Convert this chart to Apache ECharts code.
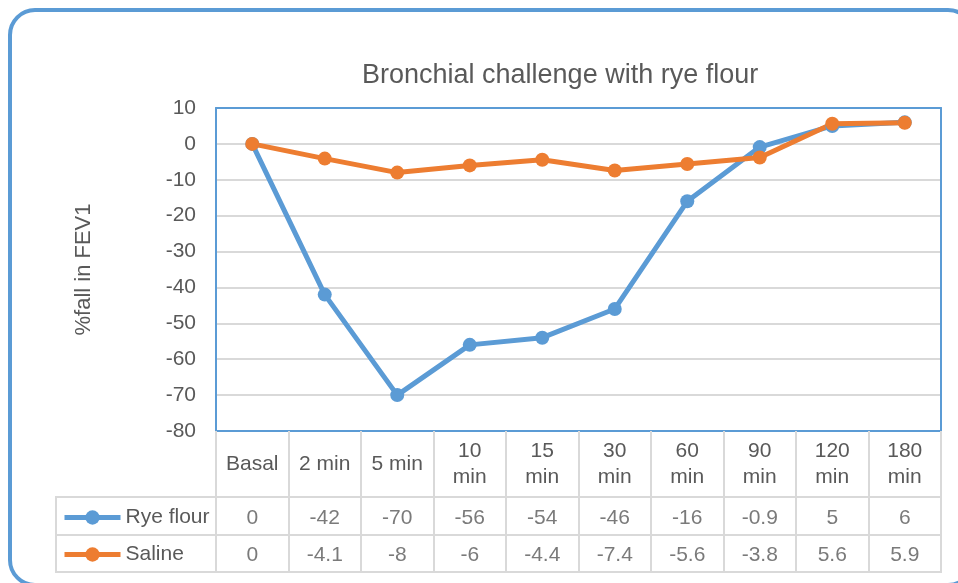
<!DOCTYPE html>
<html><head><meta charset="utf-8">
<script src="https://cdn.jsdelivr.net/npm/echarts@6/dist/echarts.min.js"></script>
<style>html,body{margin:0;padding:0;background:#fff}#c{width:958px;height:583px}</style>
</head><body><div id="c"></div>
<script>
const categories = ['Basal','2 min','5 min','10 min','15 min','30 min','60 min','90 min','120 min','180 min'];
const ryeFlour = [0,-42,-70,-56,-54,-46,-16,-0.9,5,6];
const saline = [0,-4.1,-8,-6,-4.4,-7.4,-5.6,-3.8,5.6,5.9];
const seriesNames = ['Rye flour','Saline'];
const titleText = 'Bronchial challenge with rye flour';
const yAxisName = '%fall in FEV1';

const FONT = 'Liberation Sans';
const TXT = '#595959';
const GRIDC = '#d9d9d9';
const BLUE = '#5b9bd5';
const ORANGE = '#ed7d31';

const chart = echarts.init(document.getElementById('c'));
const hiddenAxis = (gi, type, extra) => Object.assign({gridIndex: gi, type: type, show: false}, extra || {});
const rowX = gi => ({gridIndex: gi, type: 'category', data: categories, boundaryGap: true,
  axisLine: {show: false}, axisTick: {show: false}, axisLabel: {show: false},
  splitLine: {show: true, lineStyle: {color: GRIDC, width: 2}}});
const rowSeries = (name, arr, gi) => ({
  name: name, type: 'scatter', xAxisIndex: gi, yAxisIndex: gi, silent: true,
  symbolSize: 1, itemStyle: {color: 'rgba(0,0,0,0)'},
  data: arr.map((v, i) => [i, 0.45]),
  label: {show: true, position: 'inside', color: TXT, fontSize: 21, fontFamily: FONT,
    formatter: p => String(arr[p.dataIndex])}
});
const legendRow = (name, top) => ({data: [name], orient: 'vertical', left: 62, top: top, padding: 0,
  itemWidth: 56, itemHeight: 18, selectedMode: false,
  lineStyle: {width: 5},
  textStyle: {fontSize: 21, color: TXT, fontFamily: FONT}});

chart.setOption({
  animation: false,
  textStyle: {fontFamily: FONT, color: TXT},
  title: {text: titleText, left: 362, top: 62, padding: 0,
    textStyle: {fontSize: 27, fontWeight: 'normal', color: TXT, fontFamily: FONT}},
  graphic: [{type: 'rect', silent: true, z: -1,
    shape: {x: 10, y: 10, width: 963, height: 575, r: 25},
    style: {fill: 'none', stroke: BLUE, lineWidth: 4}}],
  legend: [legendRow(seriesNames[0], 507), legendRow(seriesNames[1], 544)],
  grid: [
    {left: 216, top: 108, width: 725, height: 323, show: false},
    {left: 216, top: 497, width: 725, height: 38, show: true, borderColor: GRIDC, borderWidth: 2},
    {left: 216, top: 535, width: 725, height: 37, show: true, borderColor: GRIDC, borderWidth: 2},
    {left: 56, top: 497, width: 160, height: 38, show: true, borderColor: GRIDC, borderWidth: 2},
    {left: 56, top: 535, width: 160, height: 37, show: true, borderColor: GRIDC, borderWidth: 2}
  ],
  xAxis: [
    {gridIndex: 0, type: 'category', data: categories, boundaryGap: true, position: 'bottom',
      axisLine: {show: true, onZero: false, lineStyle: {color: BLUE, width: 2}},
      axisTick: {show: true, length: 66, lineStyle: {color: GRIDC, width: 2}},
      axisLabel: {interval: 0, margin: 33, verticalAlign: 'middle', lineHeight: 26,
        fontSize: 21, color: TXT, fontFamily: FONT,
        formatter: v => v.length > 5 ? v.replace(' ', '\n') : v}},
    rowX(1), rowX(2),
    hiddenAxis(3, 'value', {min: 0, max: 1}), hiddenAxis(4, 'value', {min: 0, max: 1}),
    {gridIndex: 0, type: 'category', data: categories, position: 'top',
      axisLine: {show: true, onZero: false, lineStyle: {color: BLUE, width: 2}},
      axisTick: {show: false}, axisLabel: {show: false}, splitLine: {show: false}}
  ],
  yAxis: [
    {gridIndex: 0, type: 'value', min: -80, max: 10, interval: 10, position: 'left',
      axisLine: {show: true, onZero: false, lineStyle: {color: BLUE, width: 2}}, axisTick: {show: false},
      splitLine: {show: true, lineStyle: {color: GRIDC, width: 2}},
      axisLabel: {fontSize: 21, color: TXT, fontFamily: FONT, margin: 20},
      name: yAxisName, nameLocation: 'middle', nameGap: 121, nameRotate: 90,
      nameTextStyle: {fontSize: 22, color: TXT, fontFamily: FONT}},
    hiddenAxis(1, 'value', {min: 0, max: 1}), hiddenAxis(2, 'value', {min: 0, max: 1}),
    hiddenAxis(3, 'value', {min: 0, max: 1}), hiddenAxis(4, 'value', {min: 0, max: 1}),
    {gridIndex: 0, type: 'value', min: -80, max: 10, interval: 10, position: 'right',
      axisLine: {show: true, onZero: false, lineStyle: {color: BLUE, width: 2}},
      axisTick: {show: false}, axisLabel: {show: false}, splitLine: {show: false}}
  ],
  series: [
    {name: seriesNames[0], type: 'line', data: ryeFlour, xAxisIndex: 0, yAxisIndex: 0,
      symbol: 'circle', symbolSize: 14, color: BLUE,
      lineStyle: {width: 5, color: BLUE}, itemStyle: {color: BLUE}},
    {name: seriesNames[1], type: 'line', data: saline, xAxisIndex: 0, yAxisIndex: 0,
      symbol: 'circle', symbolSize: 14, color: ORANGE,
      lineStyle: {width: 5, color: ORANGE}, itemStyle: {color: ORANGE}},
    rowSeries('rowRye', ryeFlour, 1),
    rowSeries('rowSaline', saline, 2)
  ]
});
</script></body></html>
